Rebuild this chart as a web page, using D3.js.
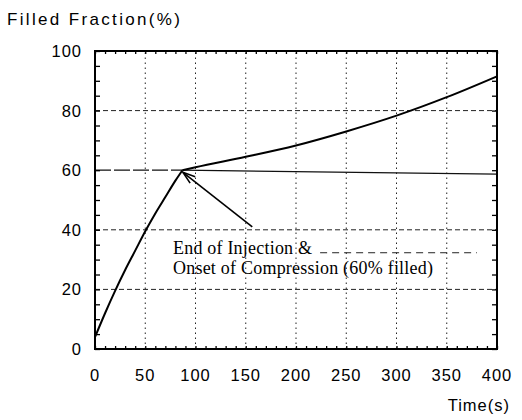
<!DOCTYPE html>
<html>
<head>
<meta charset="utf-8">
<script src="https://cdn.jsdelivr.net/npm/d3@7"></script>
<style>
  body { margin: 0; background: #fff; }
  svg { display: block; }
</style>
</head>
<body>
<svg></svg>
<script>
// filled fraction vs time
const injectionTime = [0, 10, 20, 30, 40, 50, 60, 70, 80, 87];
const injectionFill = [4, 12, 19.5, 26.5, 33, 39.5, 45.5, 51, 56.5, 60];
const compressionTime = [87, 100, 150, 200, 250, 300, 350, 400];
const compressionFill = [60, 61, 64.5, 68.3, 73, 78.3, 84.5, 91.5];

const xTicks = [0, 50, 100, 150, 200, 250, 300, 350, 400];
const yTicks = [0, 20, 40, 60, 80, 100];
const noteLines = ["End of Injection &", "Onset of Compression (60% filled)"];

const W = 522, H = 420;
const svg = d3.select("svg").attr("width", W).attr("height", H);

const x = d3.scaleLinear().domain([0, 400]).range([95, 497]);
const y = d3.scaleLinear().domain([0, 100]).range([349, 51]);

const sans = "'Liberation Sans', Arial, sans-serif";
const serif = "'Liberation Serif', 'Times New Roman', serif";

// grid
const grid = svg.append("g");
grid.selectAll("line.v")
  .data(xTicks.filter(d => d > 0 && d < 400))
  .join("line")
  .attr("x1", d => x(d)).attr("x2", d => x(d))
  .attr("y1", y(0)).attr("y2", y(100))
  .attr("stroke", "#222").attr("stroke-width", 1)
  .attr("stroke-dasharray", "1.5,3.5");
grid.selectAll("line.h")
  .data([20, 40, 80])
  .join("line")
  .attr("x1", x(0)).attr("x2", x(400))
  .attr("y1", d => y(d)).attr("y2", d => y(d))
  .attr("stroke", "#222").attr("stroke-width", 1)
  .attr("stroke-dasharray", "5,3");

// 60% reference line
grid.append("line")
  .attr("x1", x(0)).attr("x2", x(87))
  .attr("y1", y(60)).attr("y2", y(60))
  .attr("stroke", "#111").attr("stroke-width", 1.3)
  .attr("stroke-dasharray", "16,3");
grid.append("line")
  .attr("x1", x(87)).attr("x2", x(400))
  .attr("y1", y(60)).attr("y2", y(58.7))
  .attr("stroke", "#111").attr("stroke-width", 1.3);

// minor ticks inside frame
const minorY = d3.range(0, 101, 5);
const minorX = d3.range(0, 401, 10);
const tickStyle = g => {
  g.select(".domain").remove();
  g.selectAll(".tick line").attr("stroke", "#000").attr("stroke-width", 1.3);
};
svg.append("g").attr("transform", `translate(${x(0)},0)`)
  .call(d3.axisRight(y).tickValues(minorY).tickSize(5).tickFormat(""))
  .call(tickStyle);
svg.append("g").attr("transform", `translate(${x(400)},0)`)
  .call(d3.axisLeft(y).tickValues(minorY).tickSize(5).tickFormat(""))
  .call(tickStyle);
svg.append("g").attr("transform", `translate(0,${y(0)})`)
  .call(d3.axisTop(x).tickValues(minorX).tickSize(3).tickFormat(""))
  .call(tickStyle);
svg.append("g").attr("transform", `translate(0,${y(100)})`)
  .call(d3.axisBottom(x).tickValues(minorX).tickSize(3).tickFormat(""))
  .call(tickStyle);

// frame
svg.append("rect")
  .attr("x", x(0)).attr("y", y(100))
  .attr("width", x(400) - x(0)).attr("height", y(0) - y(100))
  .attr("fill", "none").attr("stroke", "#000").attr("stroke-width", 2);

// tick labels
svg.append("g").selectAll("text")
  .data(yTicks).join("text")
  .attr("x", 82).attr("y", d => y(d) + 6)
  .attr("text-anchor", "end")
  .attr("font-family", sans).attr("font-size", 16.5)
  .attr("letter-spacing", 1)
  .text(d => d);
svg.append("g").selectAll("text")
  .data(xTicks).join("text")
  .attr("x", d => x(d)).attr("y", 381)
  .attr("text-anchor", "middle")
  .attr("font-family", sans).attr("font-size", 16.5)
  .attr("letter-spacing", 1)
  .text(d => d);

svg.append("text")
  .attr("x", 7).attr("y", 25)
  .attr("font-family", sans).attr("font-size", 17)
  .attr("textLength", 173).attr("lengthAdjust", "spacing")
  .text("Filled  Fraction(%)");
svg.append("text")
  .attr("x", 510).attr("y", 411)
  .attr("text-anchor", "end")
  .attr("font-family", sans).attr("font-size", 16.5)
  .attr("letter-spacing", 1)
  .text("Time(s)");

// curve
const line = d3.line().x(d => x(d[0])).y(d => y(d[1])).curve(d3.curveMonotoneX);
svg.append("path")
  .datum(injectionTime.map((t, i) => [t, injectionFill[i]]))
  .attr("d", line)
  .attr("fill", "none").attr("stroke", "#000").attr("stroke-width", 2);
svg.append("path")
  .datum(compressionTime.map((t, i) => [t, compressionFill[i]]))
  .attr("d", line)
  .attr("fill", "none").attr("stroke", "#000").attr("stroke-width", 2);

// annotation arrow
const tail = [x(156.5), y(41)], head = [x(87.5), y(59.3)];
const ang = Math.atan2(tail[1] - head[1], tail[0] - head[0]);
const ah = 13, spread = 0.32;
svg.append("line")
  .attr("x1", tail[0]).attr("y1", tail[1]).attr("x2", head[0]).attr("y2", head[1])
  .attr("stroke", "#000").attr("stroke-width", 1.6);
svg.append("path")
  .attr("d", `M${head[0] + ah * Math.cos(ang - spread)},${head[1] + ah * Math.sin(ang - spread)}
              L${head[0]},${head[1]}
              L${head[0] + ah * Math.cos(ang + spread)},${head[1] + ah * Math.sin(ang + spread)}`)
  .attr("fill", "none").attr("stroke", "#000").attr("stroke-width", 1.6);

// note
svg.append("line")
  .attr("x1", x(224)).attr("x2", x(380))
  .attr("y1", y(32.3)).attr("y2", y(32.3))
  .attr("stroke", "#222").attr("stroke-width", 1)
  .attr("stroke-dasharray", "7,5");
svg.append("text")
  .attr("x", 173).attr("y", 254)
  .attr("font-family", serif).attr("font-size", 18)
  .attr("textLength", 139).attr("lengthAdjust", "spacing")
  .text(noteLines[0]);
svg.append("text")
  .attr("x", 173).attr("y", 274)
  .attr("font-family", serif).attr("font-size", 18)
  .attr("textLength", 260).attr("lengthAdjust", "spacing")
  .text(noteLines[1]);
</script>
</body>
</html>
